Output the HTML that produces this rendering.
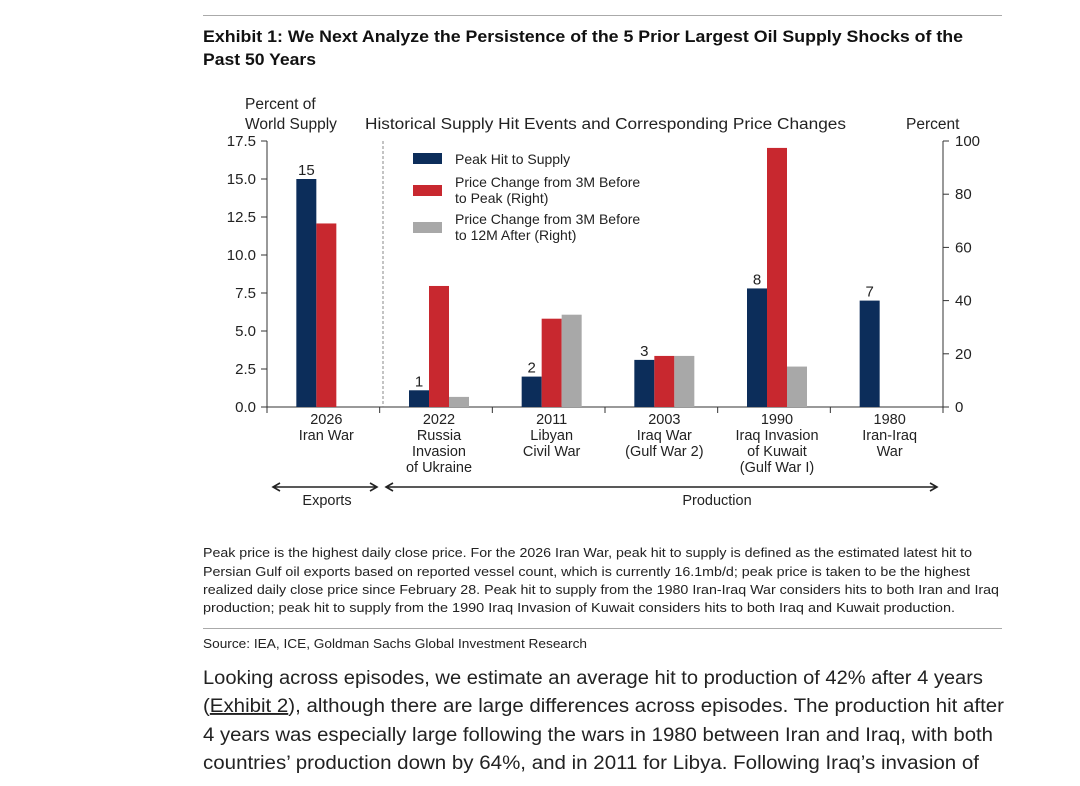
<!DOCTYPE html>
<html><head><meta charset="utf-8"><style>
html,body{margin:0;padding:0;background:#fff;}
svg{display:block;font-family:"Liberation Sans",Arial,sans-serif;}
</style></head><body>
<svg id="page" width="1080" height="786" viewBox="0 0 1080 786">
<line x1="203" y1="15.5" x2="1002" y2="15.5" stroke="#aaa"/>
<g font-weight="bold" font-size="17" fill="#111">
<text x="203" y="42" textLength="760" lengthAdjust="spacingAndGlyphs">Exhibit 1: We Next Analyze the Persistence of the 5 Prior Largest Oil Supply Shocks of the</text>
<text x="203" y="65" textLength="113" lengthAdjust="spacingAndGlyphs">Past 50 Years</text>
</g>
<g id="chart"></g>
<g font-size="13" fill="#222">
<text x="203" y="557" textLength="769" lengthAdjust="spacingAndGlyphs">Peak price is the highest daily close price. For the 2026 Iran War, peak hit to supply is defined as the estimated latest hit to</text>
<text x="203" y="576" textLength="767" lengthAdjust="spacingAndGlyphs">Persian Gulf oil exports based on reported vessel count, which is currently 16.1mb/d; peak price is taken to be the highest</text>
<text x="203" y="594" textLength="796" lengthAdjust="spacingAndGlyphs">realized daily close price since February 28. Peak hit to supply from the 1980 Iran-Iraq War considers hits to both Iran and Iraq</text>
<text x="203" y="612" textLength="752" lengthAdjust="spacingAndGlyphs">production; peak hit to supply from the 1990 Iraq Invasion of Kuwait considers hits to both Iraq and Kuwait production.</text>
</g>
<line x1="203" y1="628.5" x2="1002" y2="628.5" stroke="#aaa"/>
<text x="203" y="648" font-size="13" fill="#222" textLength="384" lengthAdjust="spacingAndGlyphs">Source: IEA, ICE, Goldman Sachs Global Investment Research</text>
<g font-size="19" fill="#222">
<text x="203" y="684" textLength="780" lengthAdjust="spacingAndGlyphs">Looking across episodes, we estimate an average hit to production of 42% after 4 years</text>
<text x="203" y="712" textLength="801" lengthAdjust="spacingAndGlyphs">(<tspan text-decoration="underline">Exhibit 2</tspan>), although there are large differences across episodes. The production hit after</text>
<text x="203" y="741" textLength="790" lengthAdjust="spacingAndGlyphs">4 years was especially large following the wars in 1980 between Iran and Iraq, with both</text>
<text x="203" y="769" textLength="776" lengthAdjust="spacingAndGlyphs">countries’ production down by 64%, and in 2011 for Libya. Following Iraq’s invasion of</text>
</g>
</svg>
<script>
const categories = [["2026","Iran War"],["2022","Russia","Invasion","of Ukraine"],["2011","Libyan","Civil War"],["2003","Iraq War","(Gulf War 2)"],["1990","Iraq Invasion","of Kuwait","(Gulf War I)"],["1980","Iran-Iraq","War"]];
const peakHit = [15.0, 1.1, 2.0, 3.1, 7.8, 7.0];
const peakHitLabels = ["15","1","2","3","8","7"];
const priceToPeak = [69, 45.5, 33.2, 19.2, 97.4, null];
const priceTo12M = [null, 3.8, 34.7, 19.2, 15.2, null];
const leftTicks = [0, 2.5, 5, 7.5, 10, 12.5, 15, 17.5];
const rightTicks = [0, 20, 40, 60, 80, 100];

const NS = "http://www.w3.org/2000/svg";
const g = document.getElementById("chart");
const X0 = 267, X1 = 943, Y0 = 407, Y1 = 141;
const yL = v => Y0 - v / 17.5 * (Y0 - Y1);
const yR = v => Y0 - v / 100 * (Y0 - Y1);
const bw = (X1 - X0) / categories.length;
const xc = i => X0 + bw * (i + 0.5);
function el(tag, attrs, parent) {
  const e = document.createElementNS(NS, tag);
  for (const k in attrs) e.setAttribute(k, attrs[k]);
  (parent || g).appendChild(e);
  return e;
}
function txt(x, y, s, anchor, size) {
  const t = el("text", {x: x, y: y, "text-anchor": anchor || "start", "font-size": size || 14.5, fill: "#222"});
  t.textContent = s;
  return t;
}
let t;
t = txt(245, 109, "Percent of", "start", 15.5);  
t = txt(245, 129, "World Supply", "start", 15.5);  
t = txt(365, 129, "Historical Supply Hit Events and Corresponding Price Changes", "start", 15.5);  
t.setAttribute("textLength", "481");
t.setAttribute("lengthAdjust", "spacingAndGlyphs");
t = txt(906, 129, "Percent", "start", 15.5);  
let a;
a = el("line", {x1: X0, y1: Y1, x2: X0, y2: Y0, stroke: "#333"});  
a = el("line", {x1: X1, y1: Y1, x2: X1, y2: Y0, stroke: "#333"});  
a = el("line", {x1: X0, y1: Y0, x2: X1, y2: Y0, stroke: "#333"});  
a = el("line", {x1: 383, y1: Y1, x2: 383, y2: Y0, stroke: "#888", "stroke-dasharray": "3,2"});  
leftTicks.forEach(v => {
  el("line", {x1: X0 - 6, y1: yL(v), x2: X0, y2: yL(v), stroke: "#333"});
  const l = txt(256, yL(v) + 5, v.toFixed(1), "end", 15);
  
  
});
rightTicks.forEach(v => {
  el("line", {x1: X1, y1: yR(v), x2: X1 + 6, y2: yR(v), stroke: "#333"});
  const l = txt(955, yR(v) + 5, String(v), "start", 15);
  
  
});
for (let i = 0; i <= categories.length; i++) {
  el("line", {x1: X0 + bw * i, y1: Y0, x2: X0 + bw * i, y2: Y0 + 6, stroke: "#333"});
}
const W = 20;
categories.forEach((c, i) => {
  const cx = xc(i) + 3;
  c.forEach((s, j) => {
    const l = txt(cx, 424 + j * 16, s, "middle");
    
    
  });
  const b = el("rect", {x: cx - 30, y: yL(peakHit[i]), width: W, height: Y0 - yL(peakHit[i]), fill: "#0c2d5a"});
  
  
  const lb = txt(cx - 20, yL(peakHit[i]) - 4, peakHitLabels[i], "middle", 15);
  
  
  if (priceToPeak[i] != null) {
    const r = el("rect", {x: cx - 10, y: yR(priceToPeak[i]), width: W, height: Y0 - yR(priceToPeak[i]), fill: "#c8282f"});
    
    
  }
  if (priceTo12M[i] != null) {
    const q = el("rect", {x: cx + 10, y: yR(priceTo12M[i]), width: W, height: Y0 - yR(priceTo12M[i]), fill: "#a8a8a8"});
    
    
  }
});
const leg = [["#0c2d5a", ["Peak Hit to Supply"], 153], ["#c8282f", ["Price Change from 3M Before", "to Peak (Right)"], 185], ["#a8a8a8", ["Price Change from 3M Before", "to 12M After (Right)"], 222]];
leg.forEach(L => {
  const r = el("rect", {x: 413, y: L[2], width: 29, height: 11, fill: L[0]});
  
  
  L[1].forEach((s, j) => {
    const tt = txt(455, (L[1].length > 1 ? L[2] + 2 : L[2] + 11) + j * 16, s, "start", 14);
    
    
  });
});
function arrow(x1, x2, name) {
  const p = el("path", {d: `M${x1} 487 L${x2} 487 M${x1 + 7} 483 L${x1} 487 L${x1 + 7} 491 M${x2 - 7} 483 L${x2} 487 L${x2 - 7} 491`, stroke: "#222", "stroke-width": 1.6, fill: "none"});
  
  
}
arrow(273, 377, 'exports-arrow');
arrow(386, 937, 'production-arrow');
t = txt(327, 505, "Exports", "middle");  
t = txt(717, 505, "Production", "middle");  
</script>
</body></html>
